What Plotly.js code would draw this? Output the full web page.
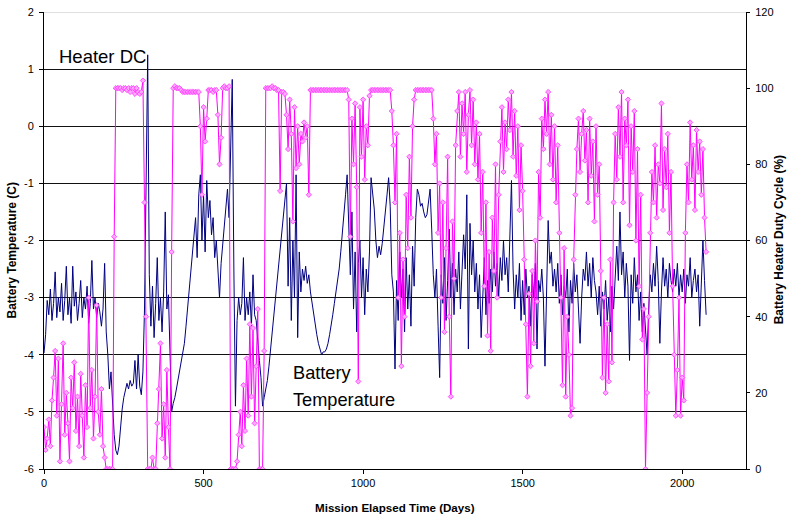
<!DOCTYPE html>
<html>
<head>
<meta charset="utf-8">
<script src="https://cdn.plot.ly/plotly-3.0.1.min.js"></script>
<style>html,body{margin:0;padding:0;background:#fff;}#chart{width:788px;height:518px;}</style>
</head>
<body>
<div id="chart"></div>
<script>
// Sampling interval of the readings (days)
const DAY_STEP = 5;

// Battery temperature (C), one value every 5 days from day 0
const batteryTemp = [
 -3.97,-3.65,-3.05,-3.3,-2.85,-3.4,-3.1,-2.55,-3.35,-3.0,-3.25,-2.75,-3.4,-3.05,-2.45,-3.3,-3.0,-3.45,-2.45,-3.15,
 -2.9,-3.4,-3.1,-2.7,-3.35,-3.0,-3.2,-2.8,-3.45,-3.1,-2.35,-3.2,-3.0,-3.35,-3.1,-3.25,-3.5,-3.2,-2.4,-3.6,
 -4.0,-4.6,-4.3,-5.0,-5.4,-5.67,-5.75,-5.6,-5.2,-4.95,-4.75,-4.6,-4.5,-4.6,-4.45,-4.55,-4.5,-4.1,-4.6,-4.0,
 -4.55,-4.7,-4.3,-3.2,-0.9,1.25,-2.6,-3.5,-2.8,-3.7,-3.1,-2.3,-3.4,-3.0,-3.6,-2.9,-1.5,-3.2,-2.95,-3.8,
 -5.0,-4.85,-4.75,-4.6,-4.45,-4.3,-4.1,-3.95,-3.8,-3.5,-3.2,-2.9,-2.6,-2.3,-2.0,-1.6,-2.3,-1.2,-0.85,-2.0,
 -1.2,-2.2,-0.95,-1.6,-1.3,-1.9,-1.6,-2.3,-2.0,-2.6,-3.0,-2.4,-2.1,-1.7,-1.4,-1.1,-1.6,-0.6,0.82,-2.5,
 -4.9,-3.4,-3.0,-3.3,-3.1,-2.3,-3.4,-3.0,-3.3,-2.9,-3.5,-2.6,-3.3,-3.4,-3.8,-4.1,-4.4,-4.9,-4.75,-4.6,
 -4.45,-4.2,-3.9,-3.6,-3.3,-3.0,-2.7,-2.45,-2.2,-1.9,-1.6,-1.3,-1.0,-2.8,-1.6,-3.4,-2.0,-3.0,-0.85,-3.7,
 -2.2,-2.9,-2.5,-2.7,-2.45,-2.75,-2.6,-2.9,-3.1,-3.3,-3.5,-3.65,-3.8,-3.9,-4.0,-3.95,-3.95,-3.9,-3.8,-3.65,
 -3.5,-3.3,-3.1,-2.9,-2.7,-2.5,-2.2,-1.9,-1.6,-1.2,-0.85,-1.9,-2.6,-1.5,-3.2,-2.2,-3.6,-2.4,-2.0,-3.0,
 -2.3,-3.3,-2.5,-2.9,-2.2,-0.9,-1.2,-1.45,-2.0,-2.3,-2.1,-2.25,-2.05,-1.8,-1.5,-1.2,-0.9,-1.4,-2.6,-2.9,
 -4.25,-2.7,-3.4,-2.2,-3.0,-2.5,-3.6,-2.3,-3.2,-2.6,-3.5,-2.1,-2.8,-1.6,-1.1,-1.2,-1.4,-1.35,-1.5,-1.6,
 -1.55,-1.3,-1.1,-1.8,-2.6,-3.0,-2.5,-3.5,-4.4,-2.6,-3.1,-2.3,-3.4,-2.7,-1.8,-3.0,-2.4,-3.3,-2.5,-2.9,
 -2.2,-3.2,-2.6,-1.9,-2.5,-1.2,-3.9,-1.7,-2.6,-2.0,-2.9,-2.4,-3.2,-2.6,-3.7,-2.8,-2.3,-3.3,-2.7,-3.1,
 -2.5,-2.9,-2.2,-2.8,-2.4,-3.0,-2.3,-2.7,-2.0,-2.6,-2.3,-2.9,-2.1,-0.95,-2.5,-3.2,-2.6,-3.0,-2.4,-3.4,
 -2.7,-3.3,-2.5,-3.0,-2.8,-3.5,-2.6,-3.0,-2.4,-3.9,-2.7,-2.9,-2.5,-3.0,-4.2,-2.6,-1.65,-2.4,-2.2,-2.8,
 -2.5,-2.9,-2.4,-3.1,-2.6,-3.3,-2.8,-3.0,-2.5,-3.6,-2.7,-3.1,-2.4,-2.9,-2.6,-3.2,-3.8,-3.0,-2.5,-2.7,
 -2.2,-2.8,-2.4,-3.0,-2.3,-2.7,-2.9,-3.3,-2.8,-3.5,-2.9,-3.2,-2.7,-3.4,-3.0,-3.6,-2.8,-3.2,-2.5,-2.1,
 -2.7,-1.5,-2.6,-2.2,-3.0,-2.4,-2.8,-4.1,-2.6,-3.1,-2.3,-2.9,-2.6,-3.4,-2.9,-3.6,-3.1,-3.5,-4.0,-3.2,
 -2.6,-2.9,-2.4,-2.8,-2.1,-2.7,-3.8,-2.9,-2.3,-2.8,-2.5,-3.0,-2.4,-2.7,-2.9,-2.5,-2.8,-2.4,-3.0,-2.6,
 -2.9,-2.5,-3.1,-2.6,-2.8,-2.3,-3.0,-2.7,-2.5,-2.9,-2.6,-3.5,-2.8,-2.0,-2.7,-3.3
];

// Battery heater duty cycle (%), one value every 5 days from day 0
const heaterDuty = [
 11,5,8,13,6,18,24,31,14,29,2,17,33,9,20,12,2,24,16,28,
 10,19,6,25,14,3,22,11,45,16,26,8,19,43,15,9,21,6,3,0,
 0,0,0,0,61,100,100,100,100,99.5,100,100,99.5,100,99,100,100,98.5,100,99,
 98.5,99,102,70,40,0,0,0,3,0,0,12,21,33,8,17,3,26,11,0,
 57,100,100.5,100,100,100,99.5,99,99,99,99,99,99,99,99,99,99,99,90,72,
 95,86,92,99.5,99.5,99.5,99,99.5,99.5,93,80,87,100,100.5,100,100,100.5,0,0,0,
 0,2,9,15,6,22,10,29,14,38,19,37,12,27,42,0,0,0,31,100,
 100,100,100,100.5,100,100,99.5,99.5,73,99,99,98.5,93,84,97,88,65,95,79,90,
 80,88,86,91,87,90,72,99.5,99.5,99.5,99.5,99.5,99.5,99.5,99.5,99.5,99.5,99.5,99.5,99.5,
 99.5,99.5,99.5,99.5,99.5,99.5,99.5,99.5,99.5,99.5,99.5,97,61,92,80,96,74,23,95,82,
 97,76,90,85,98,99.5,99.5,99.5,99.5,99.5,99.5,99.5,99.5,99.5,99.5,99.5,99.5,99.5,94,85,
 70,88,45,62,27,55,40,72,58,82,66,90,97,99.5,99.5,99.5,99.5,99.5,99.5,99.5,
 99.5,99.5,99.5,99.5,92,80,88,62,75,45,70,36,58,82,40,19,65,50,85,94,
 99,82,96,88,99,78,93,99.5,85,97,80,91,76,88,62,78,48,70,35,57,
 31,66,52,80,45,72,86,95,78,91,84,97,89,99,82,94,77,90,68,85,
 73,55,38,19,46,27,52,33,60,44,78,66,92,84,97,88,99,80,93,76,
 90,70,85,62,45,22,58,19,40,30,14,16,55,72,84,92,78,88,94,81,
 89,70,92,77,86,65,90,72,80,52,24,45,20,38,23,55,28,70,88,76,
 95,82,99,70,92,85,97,64,90,78,94,60,84,48,72,34,42,0,20,40,
 62,78,70,85,66,80,75,96,68,84,74,88,62,78,48,30,14,26,45,14,
 24,18,62,80,70,91,76,85,68,89,78,86,72,84,66,57
];

// Tick labels
const tempTickVals = [-6,-5,-4,-3,-2,-1,0,1,2];
const tempTickText = ['-6','-5','-4','-3','-2','-1','0','1','2'];
const dutyTickVals = [0,20,40,60,80,100,120];
const dayTickVals = [0,500,1000,1500,2000];

// Text labels
const titles = {
  x: 'Mission Elapsed Time (Days)',
  yLeft: 'Battery Temperature (C)',
  yRight: 'Battery Heater Duty Cycle (%)'
};
const seriesLabels = ['Heater DC', 'Battery', 'Temperature'];

const tempDays = batteryTemp.map((v, i) => i * DAY_STEP);
const dutyDays = heaterDuty.map((v, i) => i * DAY_STEP);

const FONT = 'Liberation Sans, Arial, Helvetica, sans-serif';

const traces = [
  {
    x: tempDays, y: batteryTemp, type: 'scatter', mode: 'lines',
    line: {color: '#000080', width: 1}, yaxis: 'y', hoverinfo: 'skip'
  },
  {
    x: dutyDays, y: heaterDuty, type: 'scatter', mode: 'lines+markers',
    line: {color: '#ff00ff', width: 1},
    marker: {symbol: 'diamond', size: 4, color: '#ffa8ff', line: {color: '#ff33ff', width: 0.8}},
    yaxis: 'y2', hoverinfo: 'skip'
  }
];

const L = 44, R = 745.7, T = 12, B = 469;
const px2x = p => (p - L) / (R - L);
const py2y = p => (B - p) / (B - T);

const layout = {
  width: 788, height: 518,
  margin: {l: 44, r: 42, t: 12, b: 49, pad: 0},
  showlegend: false,
  paper_bgcolor: '#ffffff', plot_bgcolor: '#ffffff',
  font: {family: FONT, size: 11, color: '#000'},
  xaxis: {
    range: [0, 2200], tickvals: dayTickVals, ticks: 'outside', ticklen: 4, tickcolor: '#000', tickwidth: 1,
    showline: true, linecolor: '#000', linewidth: 1, showgrid: false, zeroline: false,
    tickfont: {family: FONT, size: 11, color: '#000'}
  },
  yaxis: {
    range: [-6, 2], tickvals: tempTickVals, ticktext: tempTickText, ticks: 'outside', ticklen: 4,
    tickcolor: '#000', showline: true, linecolor: '#000', linewidth: 1,
    showgrid: true, gridcolor: '#111', gridwidth: 1, zeroline: false,
    tickfont: {family: FONT, size: 11, color: '#000'}, ticklabelstandoff: 3
  },
  yaxis2: {
    range: [0, 120], tickvals: dutyTickVals, overlaying: 'y', side: 'right', ticks: 'outside', ticklen: 3,
    tickcolor: '#000', showline: true, linecolor: '#000', linewidth: 1, showgrid: false, zeroline: false,
    tickfont: {family: FONT, size: 11, color: '#000'}, ticklabelstandoff: 3
  },
  shapes: [
    {type: 'line', xref: 'paper', x0: 0, x1: 1, yref: 'y', y0: 2, y1: 2, line: {color: '#c0c0c0', width: 1}, layer: 'above'}
  ],
  annotations: [
    {text: '<b>' + titles.yLeft + '</b>', xref: 'paper', yref: 'paper', x: px2x(12.5), y: py2y(250), textangle: -90,
     showarrow: false, xanchor: 'center', yanchor: 'middle', font: {family: FONT, size: 12, color: '#000'}},
    {text: '<b>' + titles.yRight + '</b>', xref: 'paper', yref: 'paper', x: px2x(779), y: py2y(240), textangle: -90,
     showarrow: false, xanchor: 'center', yanchor: 'middle', borderpad: 0, font: {family: FONT, size: 12, color: '#000'}},
    {text: '<b>' + titles.x + '</b>', xref: 'paper', yref: 'paper', x: px2x(395), y: py2y(507),
     showarrow: false, xanchor: 'center', yanchor: 'middle', font: {family: FONT, size: 11.6, color: '#000'}},
    {text: seriesLabels[0], xref: 'paper', yref: 'paper', x: px2x(57), y: py2y(57), showarrow: false,
     xanchor: 'left', yanchor: 'middle', font: {family: FONT, size: 18.5, color: '#000'}},
    {text: seriesLabels[1], xref: 'paper', yref: 'paper', x: px2x(291), y: py2y(373), showarrow: false,
     xanchor: 'left', yanchor: 'middle', font: {family: FONT, size: 18.2, color: '#000'}},
    {text: seriesLabels[2], xref: 'paper', yref: 'paper', x: px2x(291), y: py2y(399.5), showarrow: false,
     xanchor: 'left', yanchor: 'middle', font: {family: FONT, size: 18.2, color: '#000'}}
  ]
};

Plotly.newPlot('chart', traces, layout, {staticPlot: true, displayModeBar: false});
</script>
</body>
</html>
